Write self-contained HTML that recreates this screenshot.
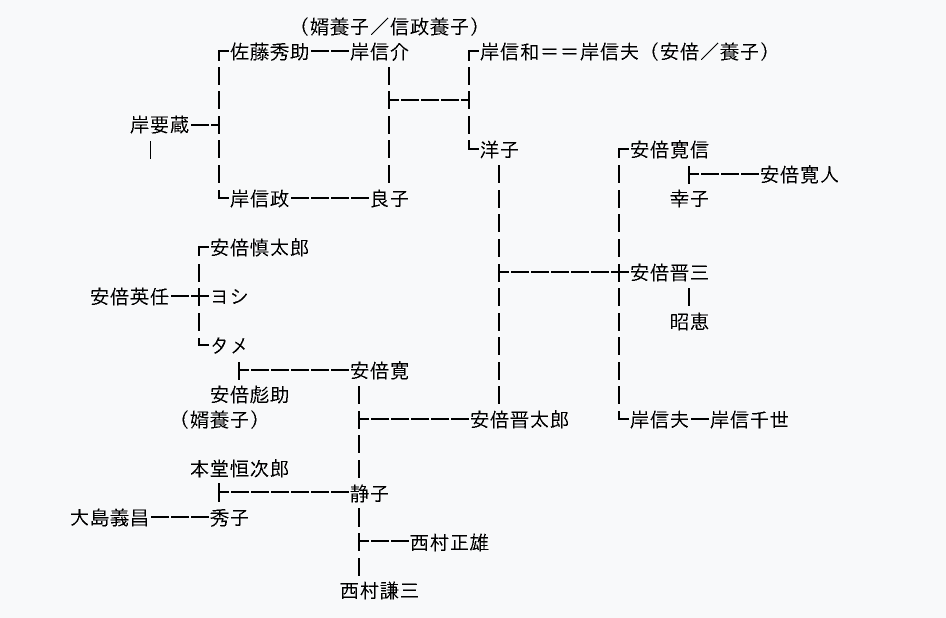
<!DOCTYPE html>
<html lang="ja"><head><meta charset="utf-8"><title>家系図</title>
<style>
html,body{margin:0;padding:0;background:#f8f9fa;width:946px;height:618px;overflow:hidden}
svg{display:block}
text{font-family:"IPAGothic","Noto Sans CJK JP",sans-serif;font-size:20px;fill:#000}
</style></head><body>
<svg width="946" height="618" viewBox="0 0 946 618" xmlns="http://www.w3.org/2000/svg">
<defs>
<filter id="crisp" x="0" y="0" width="946" height="618" filterUnits="userSpaceOnUse" color-interpolation-filters="sRGB">
<feComponentTransfer><feFuncA type="discrete" tableValues="0 0 1 1 1"/></feComponentTransfer>
</filter>
</defs>
<rect width="946" height="618" fill="#f8f9fa"/>
<path fill="none" stroke="#000" stroke-width="2" shape-rendering="crispEdges" d="
M229 51H219V61 M219 67V85 M219 91V109 M219 116V134 M219 140V158 M219 165V183 M219 190V198H229
M211 125H219 M191 125h18
M311 51h18 M331 51h18
M291 198h18 M311 198h18 M331 198h18 M351 198h18
M389 67V85 M389 91V109 M389 116V134 M389 140V158 M389 165V183
M389 100H399 M401 100h18 M421 100h18 M441 100h18 M461 100H469
M479 51H469V61 M469 67V85 M469 91V109 M469 116V134 M469 140V149H479
M499 165V183 M499 190V208 M499 214V232 M499 239V257 M499 264V282 M499 288V306 M499 313V331 M499 337V355 M499 362V380 M499 386V404
M499 272H509 M511 272h18 M531 272h18 M551 272h18 M571 272h18 M591 272h18 M611 272H629
M629 149H619V158 M619 165V183 M619 190V208 M619 214V232 M619 239V257 M619 264V282 M619 288V306 M619 313V331 M619 337V355 M619 362V380 M619 386V404 M619 411V419H629
M689 166V184 M689 174H699 M701 174h18 M721 174h18 M741 174h18
M689 288V306
M691 419h18
M209 247H199V256 M199 264V282 M199 288V306 M199 313V331 M199 338V345H209
M171 296h18 M191 296H209
M239 362V380 M239 370H249 M251 370h18 M271 370h18 M291 370h18 M311 370h18 M331 370h18
M359 386V404 M359 411V429 M359 435V453 M359 460V478 M359 508V527 M359 533V551 M359 558V576
M359 419H369 M371 419h18 M391 419h18 M411 419h18 M431 419h18 M451 419h18
M219 483V502 M219 492H229 M231 492h18 M251 492h18 M271 492h18 M291 492h18 M311 492h18 M331 492h18
M151 517h18 M171 517h18 M191 517h18
M359 541H369 M371 541h18 M391 541h18
"/>
<rect x="150" y="141" width="1" height="18" fill="#000"/>
<g filter="url(#crisp)" transform="translate(-0.5 0)">
<text x="290" y="34">（婿養子／信政養子）</text>
<text x="230" y="59">佐藤秀助</text>
<text x="350" y="59">岸信介</text>
<text x="480" y="59">岸信和＝＝岸信夫（安倍／養子）</text>
<text x="130" y="132">岸要蔵</text>
<text x="480" y="157">洋子</text>
<text x="630" y="157">安倍寛信</text>
<text x="760" y="182">安倍寛人</text>
<text x="230" y="206">岸信政</text>
<text x="370" y="206">良子</text>
<text x="670" y="206">幸子</text>
<text x="210" y="255">安倍慎太郎</text>
<text x="630" y="280">安倍晋三</text>
<text x="90" y="304">安倍英任</text>
<text x="210" y="304">ヨシ</text>
<text x="670" y="329">昭恵</text>
<text x="210" y="353">タメ</text>
<text x="350" y="378">安倍寛</text>
<text x="210" y="402">安倍彪助</text>
<text x="170" y="427">（婿養子）</text>
<text x="470" y="427">安倍晋太郎</text>
<text x="630" y="427">岸信夫</text>
<text x="710" y="427">岸信千世</text>
<text x="190" y="476">本堂恒次郎</text>
<text x="350" y="501">静子</text>
<text x="70" y="525">大島義昌</text>
<text x="210" y="525">秀子</text>
<text x="410" y="550">西村正雄</text>
<text x="340" y="598">西村謙三</text>
</g>
</svg>
</body></html>
